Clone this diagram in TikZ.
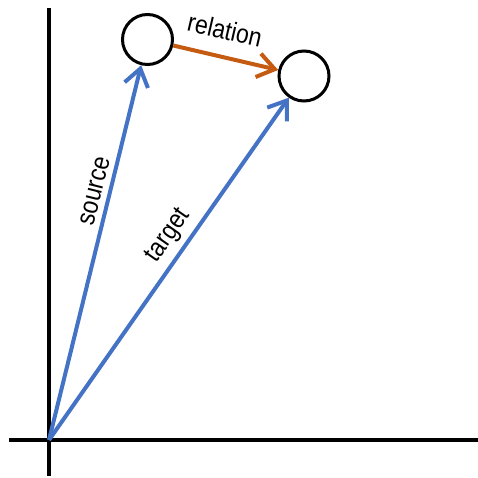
\documentclass[tikz,border=0pt]{standalone}
\usepackage{fontspec}
\setmainfont{Liberation Sans}
\usetikzlibrary{arrows.meta}
\definecolor{vecblue}{RGB}{68,114,196}
\definecolor{relorange}{RGB}{197,90,17}
\newcommand{\tall}[1]{\scalebox{1}[1.15]{#1}}
\begin{document}
\begin{tikzpicture}[x=1pt,y=-1pt,
  axis/.style={line width=3.5pt,black},
  ent/.style={circle,draw=black,line width=3pt,minimum size=50pt,inner sep=0pt},
  vec/.style={line width=4pt,vecblue,-{Straight Barb[length=17pt,width=24pt,line width=4pt]}},
  rel/.style={line width=4pt,relorange,-{Straight Barb[length=17pt,width=24pt,line width=4pt]}},
  lab/.style={font=\fontsize{23}{23}\selectfont,inner sep=0pt}]
\useasboundingbox (0,0) rectangle (478,478);
\coordinate (vtop) at (49,8);
\coordinate (vbot) at (49,476);
\coordinate (hl) at (9,440);
\coordinate (hr) at (478,440);
\coordinate (o) at (49,440);
\draw[axis] (vtop) -- (vbot);
\draw[axis] (hl) -- (hr);
\node[ent] (h) at (147.5,39.5) {};
\node[ent] (t) at (304,76) {};
\draw[vec] (o) -- (h);
\draw[vec] (o) -- (t);
\draw[rel] (h) -- (t);
\node[lab,rotate=76] (src) at (95,191) {\tall{source}};
\node[lab,rotate=55] (tgt) at (169,236) {\tall{target}};
\node[lab,rotate=-13] (rl) at (225,30) {\tall{relation}};
\end{tikzpicture}
\end{document}
